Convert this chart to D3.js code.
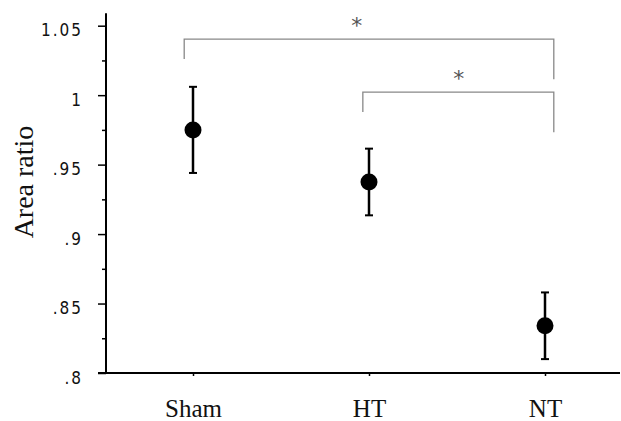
<html>

<head>
    <title>Area ratio</title>
    <script src='https://d3js.org/d3.v7.min.js'></script>
    <style>
        body { margin: 0; background: #fff; }
        .ytick text { font-family: 'Liberation Sans Narrow', 'DejaVu Sans Condensed', 'Liberation Sans', sans-serif; }
    </style>
</head>

<body>
    <svg id="chart"></svg>
    <script>
        // data
        var groups = ["Sham", "HT", "NT"];
        var means = [0.975, 0.9375, 0.834];
        var errs = [0.031, 0.024, 0.024];
        var majorTicks = [0.8, 0.85, 0.9, 0.95, 1, 1.05];
        var tickLabels = [".8", ".85", ".9", ".95", "1", "1.05"];
        var minorTicks = [0.825, 0.875, 0.925, 0.975, 1.025];
        // brackets: from group index, to group index, bar level, leg ends
        var brFrom = [-0.05, 0.965];
        var brTo = [2.05, 2.05];
        var brTop = [1.0403, 1.0022];
        var brLeftEnd = [1.026, 0.9878];
        var brRightEnd = [1.0115, 0.9733];
        var brStarX = [0.93, 1.51];

        var W = 621, H = 421;
        var svg = d3.select("#chart").attr("width", W).attr("height", H);

        var y = d3.scaleLinear().domain([0.8, 1.05]).range([373, 25.7]);
        var x = d3.scaleLinear().domain([0, 2]).range([193, 545]);

        // y axis line
        svg.append("line")
            .attr("x1", 106).attr("x2", 106)
            .attr("y1", y(1.059)).attr("y2", y(0.8))
            .attr("stroke", "#000").attr("stroke-width", 2);

        // minor ticks
        svg.append("g")
            .attr("transform", "translate(106,0)")
            .call(d3.axisLeft(y).tickValues(minorTicks).tickSize(4).tickFormat(""))
            .call(function (g) { g.select(".domain").remove(); })
            .selectAll("line").attr("stroke-width", 1.5);

        // major ticks
        var ya = svg.append("g")
            .attr("class", "ytick")
            .attr("transform", "translate(106,0)")
            .call(d3.axisLeft(y).tickValues(majorTicks).tickSize(8).tickPadding(15)
                .tickFormat(function (d, i) { return tickLabels[i]; }));
        ya.select(".domain").remove();
        ya.selectAll("line").attr("stroke-width", 1.5);
        ya.selectAll("text")
            .attr("font-size", 17)
            .attr("letter-spacing", 2)
            .attr("dy", "0.6em")
            .attr("fill", "#111");

        // x axis
        var xa = svg.append("g")
            .attr("transform", "translate(0,373)")
            .call(d3.axisBottom(x).tickValues([0, 1, 2]).tickSize(3).tickPadding(23)
                .tickFormat(function (d) { return groups[d]; }));
        xa.select(".domain").remove();
        xa.selectAll("line").attr("stroke-width", 1.5);
        xa.selectAll("text")
            .attr("font-family", "'Liberation Serif', 'Times New Roman', serif")
            .attr("font-size", 25)
            .attr("fill", "#111");
        svg.append("line")
            .attr("x1", 98).attr("x2", 620)
            .attr("y1", 373).attr("y2", 373)
            .attr("stroke", "#000").attr("stroke-width", 2);

        // y label
        svg.append("text")
            .attr("transform", "translate(33,182) rotate(-90)")
            .attr("text-anchor", "middle")
            .attr("font-family", "'Liberation Serif', 'Times New Roman', serif")
            .attr("font-size", 28)
            .attr("fill", "#111")
            .text("Area ratio");

        // error bars
        var pts = svg.append("g").selectAll("g")
            .data(groups)
            .enter().append("g");
        pts.append("line")
            .attr("x1", function (d, i) { return x(i); })
            .attr("x2", function (d, i) { return x(i); })
            .attr("y1", function (d, i) { return y(means[i] + errs[i]); })
            .attr("y2", function (d, i) { return y(means[i] - errs[i]); })
            .attr("stroke", "#000").attr("stroke-width", 2.5);
        [1, -1].forEach(function (s) {
            pts.append("line")
                .attr("x1", function (d, i) { return x(i) - 4; })
                .attr("x2", function (d, i) { return x(i) + 4; })
                .attr("y1", function (d, i) { return y(means[i] + s * errs[i]); })
                .attr("y2", function (d, i) { return y(means[i] + s * errs[i]); })
                .attr("stroke", "#000").attr("stroke-width", 2);
        });
        pts.append("circle")
            .attr("cx", function (d, i) { return x(i); })
            .attr("cy", function (d, i) { return y(means[i]); })
            .attr("r", 8.5)
            .attr("fill", "#000");

        // significance brackets
        var br = svg.append("g").selectAll("g")
            .data(brTop)
            .enter().append("g");
        br.append("path")
            .attr("d", function (d, i) {
                return "M" + x(brFrom[i]) + "," + y(brLeftEnd[i]) +
                    "V" + y(brTop[i]) + "H" + x(brTo[i]) + "V" + y(brRightEnd[i]);
            })
            .attr("fill", "none")
            .attr("stroke", "#888")
            .attr("stroke-width", 1.3);
        br.append("text")
            .attr("x", function (d, i) { return x(brStarX[i]); })
            .attr("y", function (d, i) { return y(brTop[i]) - 6; })
            .attr("text-anchor", "middle")
            .attr("font-family", "'DejaVu Sans', sans-serif")
            .attr("font-size", 22)
            .attr("fill", "#555")
            .text("*");
    </script>
</body>

</html>
